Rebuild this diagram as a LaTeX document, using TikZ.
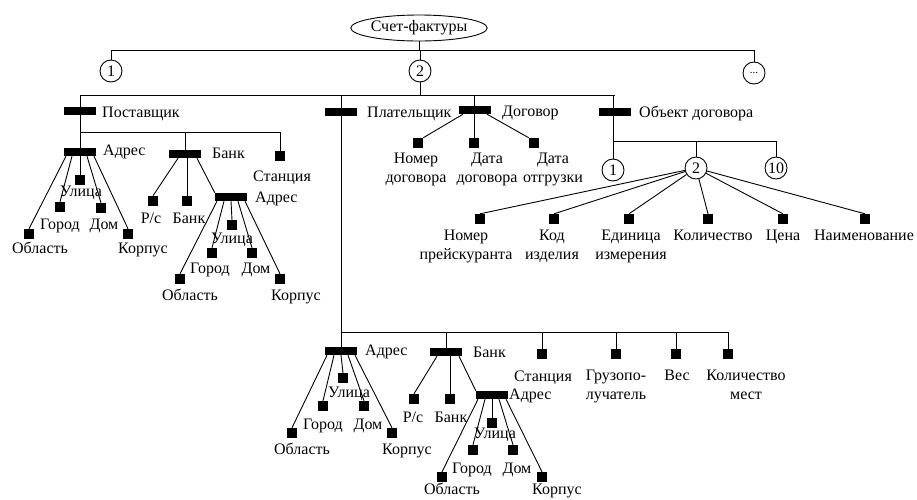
\documentclass[tikz,border=0pt]{standalone}
\usepackage{fontspec}
\setmainfont{Liberation Serif}
\usetikzlibrary{shapes.geometric}
\begin{document}
\begin{tikzpicture}[x=1pt,y=-1pt,
  font=\fontsize{16}{19}\selectfont,
  ln/.style={line width=0.9pt},
  bar/.style={fill=black,minimum width=32pt,minimum height=8pt,inner sep=0pt},
  sq/.style={fill=black,minimum size=10pt,inner sep=0pt},
  circ/.style={draw,circle,minimum size=22pt,inner sep=0pt,line width=0.9pt},
  lb/.style={anchor=base,inner sep=0pt},
  lw/.style={anchor=base west,inner sep=0pt},
  ml/.style={anchor=north,align=center,inner sep=0pt}]
\useasboundingbox (0,0) rectangle (917,499);
% root
\node[ellipse,draw,line width=0.9pt,minimum width=108pt,minimum height=26pt,inner sep=0pt] (root) at (419,28) {Счет-фактуры};
\node[circ] (c1) at (111,71) {1};
\node[circ] (c2) at (420,71) {2};
\node[circ] (c3) at (754,73) {\fontsize{11}{11}\selectfont...};
\coordinate (busA) at (0,50);
\draw[ln] (root.south) -- (root.south |- busA);
\draw[ln] (c1.north) -- (c1.north |- busA) -- (c3.north |- busA) -- (c3.north);
\draw[ln] (c2.north) -- (c2.north |- busA);
% level 2
\node[bar] (post) at (80,111) {};
\node[lw] (postL) at (102,117) {Поставщик};
\node[bar] (plat) at (341,112) {};
\node[lw] (platL) at (367,117) {Плательщик};
\node[bar] (dog) at (475,110) {};
\node[lw] (dogL) at (502,116) {Договор};
\node[bar] (obj) at (615,112) {};
\node[lw] (objL) at (639,117) {Объект договора};
\coordinate (busB) at (0,95);
\draw[ln] (c2.south) -- (c2.south |- busB);
\draw[ln] (post.center |- busB) -- (obj.center |- busB);
% Поставщик
\node[bar] (pa) at (80,152) {};
\node[lw] (paL) at (103,155) {Адрес};
\node[bar] (pb) at (185,154) {};
\node[lw] (pbL) at (212,158) {Банк};
\node[sq] (pst) at (280,156) {};
\node[lb] (pstL) at (282,181) {Станция};
\coordinate (busC) at (0,132);
\draw[ln] (pa.north) -- (pa.north |- busB);
\draw[ln] (pa.center |- busC) -- (pst.north |- busC) -- (pst.north);
\draw[ln] (pb.north) -- (pb.north |- busC);
\node[sq] (pa1) at (29,234) {};  \node[lb] (pa1L) at (40,253) {Область};
\node[sq] (pa2) at (60,207) {};  \node[lb] (pa2L) at (60,229) {Город};
\node[sq] (pa3) at (80,180) {};  \node[lb] (pa3L) at (81,196) {Улица};
\node[sq] (pa4) at (101,208) {}; \node[lb] (pa4L) at (104,229) {Дом};
\node[sq] (pa5) at (128,234) {}; \node[lb] (pa5L) at (143,253) {Корпус};
\draw[ln] ([xshift=-14pt]pa.south) -- (pa1.north);
\draw[ln] ([xshift=-8pt]pa.south) -- (pa2.north);
\draw[ln] (pa.south) -- (pa3.north);
\draw[ln] ([xshift=7pt]pa.south) -- (pa4.north);
\draw[ln] ([xshift=14pt]pa.south) -- (pa5.north);
\node[sq] (pb1) at (153,201) {}; \node[lb] (pb1L) at (151,223) {Р/с};
\node[sq] (pb2) at (187,201) {}; \node[lb] (pb2L) at (189,223) {Банк};
\node[bar] (pba) at (231,197) {}; \node[lw] (pbaL) at (255,202) {Адрес};
\draw[ln] ([xshift=-7pt]pb.south) -- (pb1.north);
\draw[ln] (pb2.north) -- (pb2.north |- pb.south);
\draw[ln] ([xshift=12pt]pb.south) -- (pba.north west);
\node[sq] (pc1) at (180,279) {}; \node[lb] (pc1L) at (190,300) {Область};
\node[sq] (pc2) at (212,253) {}; \node[lb] (pc2L) at (210,273) {Город};
\node[sq] (pc3) at (232,225) {}; \node[lb] (pc3L) at (232,243) {Улица};
\node[sq] (pc4) at (252,253) {}; \node[lb] (pc4L) at (256,273) {Дом};
\node[sq] (pc5) at (280,279) {}; \node[lb] (pc5L) at (296,300) {Корпус};
\draw[ln] ([xshift=-14pt]pba.south) -- (pc1.north);
\draw[ln] ([xshift=-7pt]pba.south) -- (pc2.north);
\draw[ln] (pba.south) -- (pc3.north);
\draw[ln] ([xshift=7pt]pba.south) -- (pc4.north);
\draw[ln] ([xshift=14pt]pba.south) -- (pc5.north);
% Плательщик
\node[bar] (ba) at (341,351) {};
\node[lw] (baL) at (365,355) {Адрес};
\node[bar] (bb) at (446,352) {};
\node[lw] (bbL) at (473,357) {Банк};
\node[sq] (bst) at (542,354) {}; \node[lb] (bstL) at (543,381) {Станция};
\node[sq] (bgr) at (616,354) {}; \node[ml] (bgrL) at (616,370) {Грузопо-\\лучатель};
\node[sq] (bves) at (676,354) {}; \node[lb] (bvesL) at (677,380) {Вес};
\node[sq] (bq) at (728,354) {}; \node[ml] (bqL) at (746,370) {Количество\\мест};
\coordinate (busD) at (0,332);
\draw[ln] (ba.north) -- (ba.north |- busB);
\draw[ln] (ba.north |- busD) -- (bq.north |- busD) -- (bq.north);
\draw[ln] (bb.north) -- (bb.north |- busD);
\draw[ln] (bst.north) -- (bst.north |- busD);
\draw[ln] (bgr.north) -- (bgr.north |- busD);
\draw[ln] (bves.north) -- (bves.north |- busD);
\node[sq] (ba1) at (292,433) {}; \node[lb] (ba1L) at (302,454) {Область};
\node[sq] (ba2) at (323,406) {}; \node[lb] (ba2L) at (323,429) {Город};
\node[sq] (ba3) at (343,378) {}; \node[lb] (ba3L) at (349,397) {Улица};
\node[sq] (ba4) at (364,406) {}; \node[lb] (ba4L) at (368,429) {Дом};
\node[sq] (ba5) at (392,433) {}; \node[lb] (ba5L) at (407,454) {Корпус};
\draw[ln] ([xshift=-14pt]ba.south) -- (ba1.north);
\draw[ln] ([xshift=-7pt]ba.south) -- (ba2.north);
\draw[ln] (ba.south) -- (ba3.north);
\draw[ln] ([xshift=7pt]ba.south) -- (ba4.north);
\draw[ln] ([xshift=14pt]ba.south) -- (ba5.north);
\node[sq] (bb1) at (414,399) {}; \node[lb] (bb1L) at (413,422) {Р/с};
\node[sq] (bb2) at (450,399) {}; \node[lb] (bb2L) at (451,422) {Банк};
\node[bar] (bba) at (492,395) {}; \node[lw] (bbaL) at (509,399) {Адрес};
\draw[ln] ([xshift=-9pt]bb.south) -- (bb1.north);
\draw[ln] (bb2.north) -- (bb2.north |- bb.south);
\draw[ln] ([xshift=13pt]bb.south) -- (bba.north west);
\node[sq] (bc1) at (442,477) {}; \node[lb] (bc1L) at (452,494) {Область};
\node[sq] (bc2) at (473,450) {}; \node[lb] (bc2L) at (472,473) {Город};
\node[sq] (bc3) at (492,423) {}; \node[lb] (bc3L) at (495,438) {Улица};
\node[sq] (bc4) at (513,450) {}; \node[lb] (bc4L) at (517,473) {Дом};
\node[sq] (bc5) at (542,477) {}; \node[lb] (bc5L) at (557,494) {Корпус};
\draw[ln] ([xshift=-14pt]bba.south) -- (bc1.north);
\draw[ln] ([xshift=-7pt]bba.south) -- (bc2.north);
\draw[ln] (bba.south) -- (bc3.north);
\draw[ln] ([xshift=7pt]bba.south) -- (bc4.north);
\draw[ln] ([xshift=14pt]bba.south) -- (bc5.north);
% Договор
\node[sq] (dn) at (418,143) {}; \node[ml] (dnL) at (416,153) {Номер\\договора};
\node[sq] (dd) at (474,143) {}; \node[ml] (ddL) at (487,153) {Дата\\договора};
\node[sq] (do) at (534,143) {}; \node[ml] (doL) at (553,153) {Дата\\отгрузки};
\draw[ln] (dd.north) -- (dd.north |- busB);
\draw[ln] ([xshift=-12pt]dog.south) -- (dn.north east);
\draw[ln] ([xshift=12pt]dog.south) -- (do.north west);
% Объект договора
\node[circ] (oc1) at (613,170) {1};
\node[circ] (oc2) at (696,168) {2};
\node[circ] (oc3) at (776,168) {10};
\coordinate (busE) at (0,141);
\draw[ln] (oc1.north) -- (oc1.north |- busB);
\draw[ln] (oc1.north |- busE) -- (oc3.north |- busE) -- (oc3.north);
\draw[ln] (oc2.north) -- (oc2.north |- busE);
\node[sq] (o1) at (480,219) {}; \node[ml] (o1L) at (466,230) {Номер\\прейскуранта};
\node[sq] (o2) at (554,219) {}; \node[ml] (o2L) at (552,230) {Код\\изделия};
\node[sq] (o3) at (629,219) {}; \node[ml] (o3L) at (631,230) {Единица\\измерения};
\node[sq] (o4) at (708,219) {}; \node[lb] (o4L) at (713,240) {Количество};
\node[sq] (o5) at (783,219) {}; \node[lb] (o5L) at (783,240) {Цена};
\node[sq] (o6) at (865,219) {}; \node[lb] (o6L) at (864,240) {Наименование};
\foreach \k in {1,...,6} {\draw[ln] (oc2) -- (o\k.north);}
\end{tikzpicture}
\end{document}
